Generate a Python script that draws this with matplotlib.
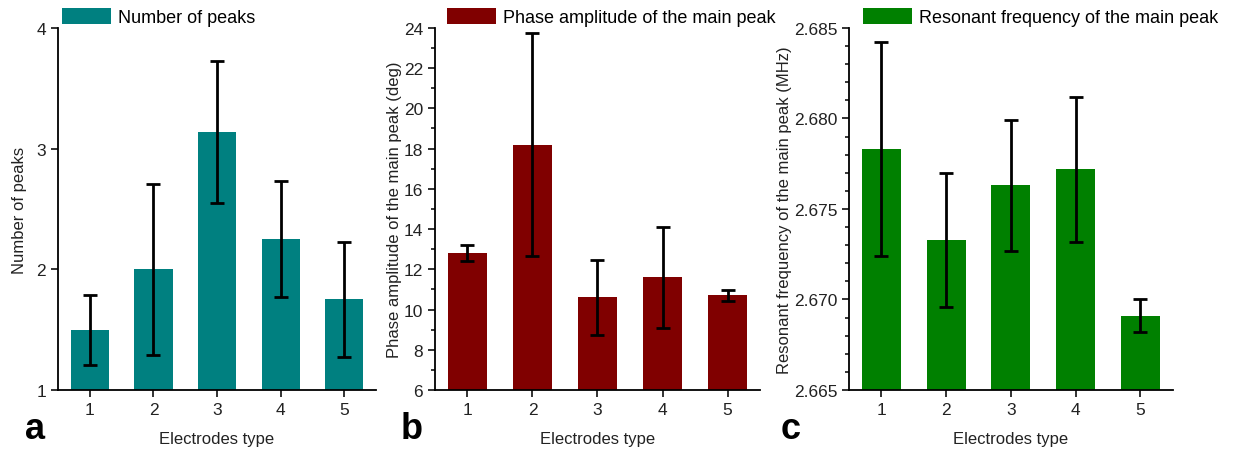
import matplotlib
matplotlib.use("Agg")
import matplotlib.pyplot as plt
from matplotlib.ticker import MultipleLocator, FormatStrFormatter

plt.rcParams["font.family"] = ["Liberation Sans", "DejaVu Sans"]

electrodes = [1, 2, 3, 4, 5]

# (a) number of peaks
peaks_mean = [1.50, 2.00, 3.14, 2.25, 1.75]
peaks_err = [0.29, 0.71, 0.59, 0.48, 0.48]

# (b) phase amplitude of the main peak, deg
phase_mean = [12.8, 18.2, 10.6, 11.6, 10.7]
phase_err = [0.4, 5.55, 1.85, 2.5, 0.28]

# (c) resonant frequency of the main peak, MHz
freq_mean = [2.6783, 2.6733, 2.6763, 2.6772, 2.6691]
freq_err = [0.0059, 0.0037, 0.0036, 0.0040, 0.0009]

fig = plt.figure(figsize=(12.35, 4.52), dpi=100)

panels = [
    dict(rect=[0.0470, 0.135, 0.2575, 0.801], mean=peaks_mean, err=peaks_err,
         color="#008080", label="Number of peaks", ylabel="Number of peaks",
         ylim=(1, 4), major=1, minor=None, fmt="%d", leg_x=0.012, letter="a",
         letter_x=0.028, ylabel_x=-0.097),
    dict(rect=[0.3522, 0.135, 0.2632, 0.801], mean=phase_mean, err=phase_err,
         color="#800000", label="Phase amplitude of the main peak",
         ylabel="Phase amplitude of the main peak (deg)",
         ylim=(6, 24), major=2, minor=1, fmt="%d", leg_x=0.037, letter="b",
         letter_x=0.333, ylabel_x=-0.10),
    dict(rect=[0.6874, 0.135, 0.2623, 0.801], mean=freq_mean, err=freq_err,
         color="#008000", label="Resonant frequency of the main peak",
         ylabel="Resonant frequency of the main peak (MHz)",
         ylim=(2.665, 2.685), major=0.005, minor=0.001, fmt="%.3f",
         leg_x=0.043, letter="c", letter_x=0.640, ylabel_x=-0.176),
]

for p in panels:
    ax = fig.add_axes(p["rect"])
    ax.bar(electrodes, p["mean"], width=0.6, color=p["color"], label=p["label"],
           zorder=2)
    ax.errorbar(electrodes, p["mean"], yerr=p["err"], fmt="none", ecolor="black",
                elinewidth=2.0, capsize=5, capthick=2.0, zorder=3)
    ax.set_xlim(0.5, 5.5)
    ax.set_ylim(*p["ylim"])
    ax.set_xticks(electrodes)
    ax.yaxis.set_major_locator(MultipleLocator(p["major"]))
    if p["minor"]:
        ax.yaxis.set_minor_locator(MultipleLocator(p["minor"]))
    ax.yaxis.set_major_formatter(FormatStrFormatter(p["fmt"]))
    for side in ("top", "right"):
        ax.spines[side].set_visible(False)
    for side in ("left", "bottom"):
        ax.spines[side].set_linewidth(1.3)
    ax.tick_params(which="major", direction="out", length=5, width=1.3,
                   labelsize=12.5, colors="#222222")
    ax.tick_params(which="minor", direction="out", length=3, width=1.1)
    ax.set_xlabel("Electrodes type", fontsize=12, labelpad=10, color="#222222")
    ax.set_ylabel(p["ylabel"], fontsize=12, color="#222222")
    ax.yaxis.set_label_coords(p["ylabel_x"], 0.5)
    ax.legend(loc="lower left", bbox_to_anchor=(p["leg_x"], 1.005),
              bbox_transform=ax.transAxes, frameon=False, fontsize=13,
              handlelength=2.7, handleheight=1.05, handletextpad=0.4,
              borderpad=0, borderaxespad=0)
    fig.text(p["letter_x"], 0.05, p["letter"], fontsize=26, fontweight="bold",
             ha="center", va="center")

fig.savefig("out.png", dpi=100)
